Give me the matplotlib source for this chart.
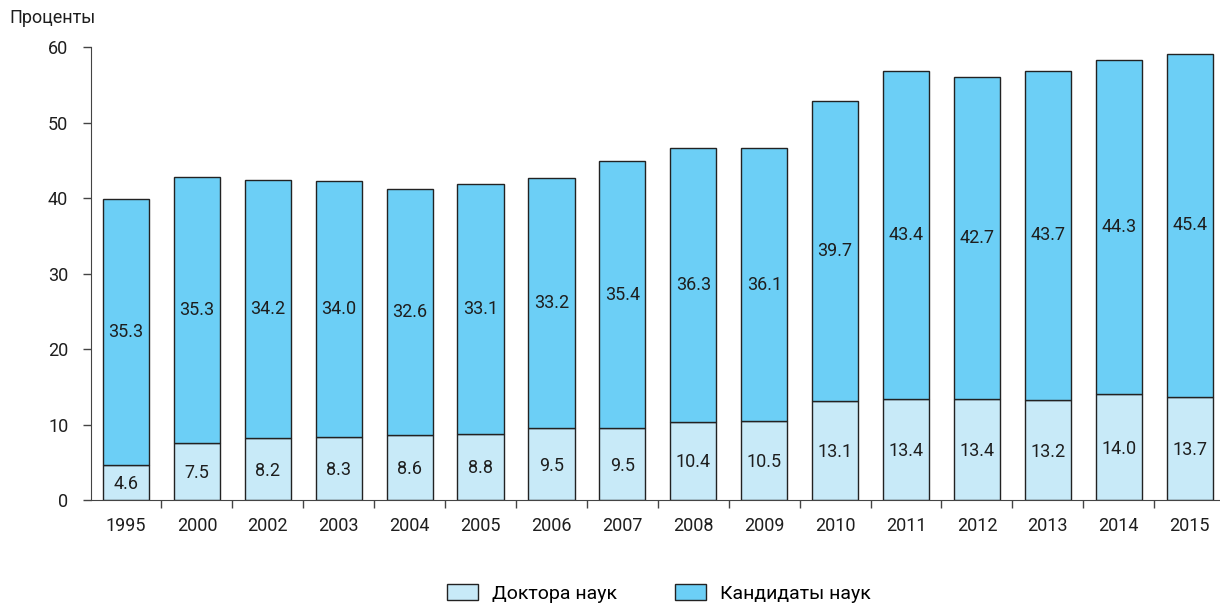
import matplotlib

matplotlib.use("Agg")
import matplotlib.pyplot as plt
import numpy as np
from matplotlib.patches import Patch

years = ["1995", "2000", "2002", "2003", "2004", "2005", "2006", "2007",
         "2008", "2009", "2010", "2011", "2012", "2013", "2014", "2015"]
doctors = [4.6, 7.5, 8.2, 8.3, 8.6, 8.8, 9.5, 9.5, 10.4, 10.5, 13.1, 13.4, 13.4, 13.2, 14.0, 13.7]
candidates = [35.3, 35.3, 34.2, 34.0, 32.6, 33.1, 33.2, 35.4, 36.3, 36.1, 39.7, 43.4, 42.7, 43.7, 44.3, 45.4]

LIGHT = "#C8EAF8"
DARK = "#6CCFF6"
EDGE = "#222222"
TEXT = "#1e1e1e"

plt.rcParams["font.family"] = ["Roboto", "DejaVu Sans"]

fig = plt.figure(figsize=(12.2, 6.04), dpi=100)
# axes runs a little past the right edge, as in the source layout
ax = fig.add_axes([0.0742, 0.172, 0.930, 0.750])

x = np.arange(len(years))
w = 0.65
ax.bar(x, doctors, w, color=LIGHT, edgecolor=EDGE, linewidth=1.0)
ax.bar(x, candidates, w, bottom=doctors, color=DARK, edgecolor=EDGE, linewidth=1.0)

for xi, d, c in zip(x, doctors, candidates):
    ax.text(xi, d / 2 - 0.2, f"{d:.1f}", ha="center", va="center", fontsize=13, color=TEXT)
    ax.text(xi, d + c / 2, f"{c:.1f}", ha="center", va="center", fontsize=13, color=TEXT)

ax.set_xlim(-0.5, len(years) - 0.5)
ax.set_ylim(0, 60)
ax.set_yticks(range(0, 61, 10))
ax.tick_params(axis="y", labelsize=13, colors=TEXT, length=6, width=1, pad=10)
ax.tick_params(axis="y", color="#444444")

ax.set_xticks(x)
ax.set_xticklabels(years, fontsize=13, color=TEXT)
ax.tick_params(axis="x", length=0, pad=12)
ax.set_xticks(np.arange(0.5, len(years) - 0.5, 1), minor=True)
ax.tick_params(axis="x", which="minor", length=6, width=1, color="#444444")

for s in ("top", "right"):
    ax.spines[s].set_visible(False)
ax.spines["left"].set_color("#444444")
ax.spines["bottom"].set_color("#444444")

fig.text(0.008, 0.97, "Проценты", fontsize=13, color=TEXT, ha="left", va="center")

handles = [Patch(facecolor=LIGHT, edgecolor=EDGE, label="Доктора наук"),
           Patch(facecolor=DARK, edgecolor=EDGE, label="Кандидаты наук")]
fig.legend(handles=handles, loc="center", bbox_to_anchor=(0.54, 0.018), ncol=2,
           frameon=False, fontsize=14, handlelength=1.6, handleheight=0.9,
           columnspacing=3.0, handletextpad=0.7)

fig.savefig("out.png", dpi=100, facecolor="white")
